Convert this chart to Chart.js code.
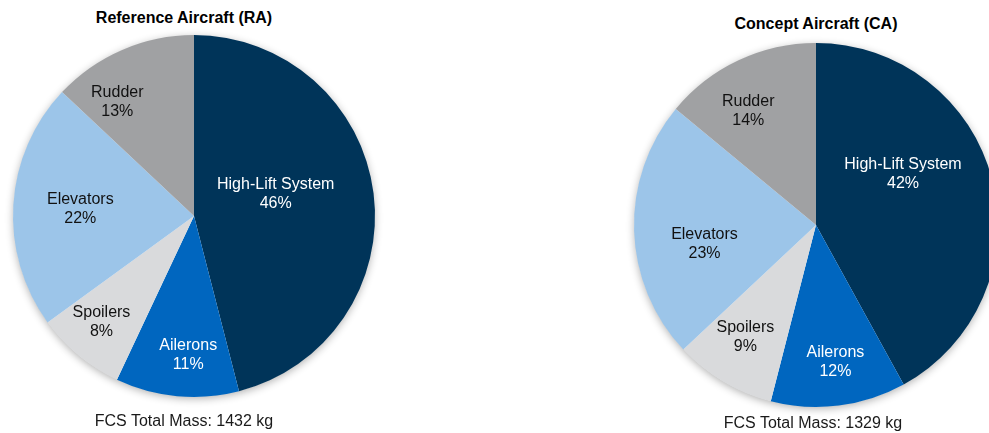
<!DOCTYPE html>
<html>
<head>
<meta charset="utf-8">
<script src="https://cdn.jsdelivr.net/npm/chart.js@4.4.1/dist/chart.umd.min.js"></script>
<style>
  html, body { margin: 0; padding: 0; background: #fff; overflow: hidden; }
  body { width: 989px; height: 433px; position: relative; font-family: "Liberation Sans", Arial, sans-serif; }
  .title { position: absolute; font-weight: bold; font-size: 16px; color: #000; transform: translate(-50%, -50%); white-space: nowrap; }
  .foot { position: absolute; font-size: 16px; color: #1a1a1a; transform: translate(-50%, -50%); white-space: nowrap; }
  canvas { position: absolute; top: 0; }
</style>
</head>
<body>
<div class="title" style="left:184px; top:18px;">Reference Aircraft (RA)</div>
<div class="title" style="left:816px; top:24px;">Concept Aircraft (CA)</div>
<canvas id="raChart" width="400" height="433" style="left:0px;"></canvas>
<canvas id="caChart" width="420" height="433" style="left:600px;"></canvas>
<div class="foot" style="left:184px; top:421px;">FCS Total Mass: 1432 kg</div>
<div class="foot" style="left:813px; top:423px;">FCS Total Mass: 1329 kg</div>

<script>
const components = ["High-Lift System", "Ailerons", "Spoilers", "Elevators", "Rudder"];
const raShares = [46, 11, 8, 22, 13];
const caShares = [42, 12, 9, 23, 14];

const sliceColors = ["#003459", "#0066BF", "#D9DADC", "#9CC5E9", "#A0A1A3"];
const textColors = ["#ffffff", "#ffffff", "#111111", "#111111", "#111111"];

// soft glow under the whole pie, drawn once so slice edges stay clean
const pieShadow = {
    id: "pieShadow",
    beforeDatasetsDraw(chart) {
        const arc = chart.getDatasetMeta(0).data[0];
        if (!arc) return;
        const ctx = chart.ctx;
        ctx.save();
        ctx.shadowColor = "rgba(0,0,0,0.32)";
        ctx.shadowBlur = 9;
        ctx.shadowOffsetY = 2;
        ctx.fillStyle = "#ffffff";
        ctx.beginPath();
        ctx.arc(arc.x, arc.y, arc.outerRadius - 0.5, 0, Math.PI * 2);
        ctx.fill();
        ctx.restore();
    }
};

// two-line "name / percent" labels inside each slice
const sliceLabels = {
    id: "sliceLabels",
    afterDatasetsDraw(chart, args, opts) {
        const ctx = chart.ctx;
        const meta = chart.getDatasetMeta(0);
        const values = chart.data.datasets[0].data;
        ctx.save();
        ctx.font = "16px 'Liberation Sans', Arial, sans-serif";
        ctx.textAlign = "center";
        ctx.textBaseline = "middle";
        meta.data.forEach((arc, i) => {
            const mid = (arc.startAngle + arc.endAngle) / 2 + (opts.shift[i] || 0) * Math.PI / 180;
            const r = arc.outerRadius * opts.depth[i];
            const x = arc.x + Math.cos(mid) * r;
            const y = arc.y + Math.sin(mid) * r + 2;
            ctx.fillStyle = textColors[i];
            ctx.fillText(chart.data.labels[i], x, y - 9.5);
            ctx.fillText(values[i] + "%", x, y + 9.5);
        });
        ctx.restore();
    }
};

function makePie(id, values, padding, depth, shift) {
    return new Chart(document.getElementById(id), {
        type: "pie",
        data: {
            labels: components,
            datasets: [{
                data: values,
                backgroundColor: sliceColors,
                borderWidth: 0,
                hoverOffset: 0
            }]
        },
        options: {
            responsive: false,
            animation: false,
            layout: { padding: padding },
            plugins: {
                legend: { display: false },
                tooltip: { enabled: false },
                sliceLabels: { depth: depth, shift: shift }
            },
            events: []
        },
        plugins: [pieShadow, sliceLabels]
    });
}

makePie("raChart", raShares,
    { left: 13, right: 25, top: 35, bottom: 36 },
    [0.47, 0.76, 0.77, 0.63, 0.77],
    [-9, -3, 2, 1, -10]);

makePie("caChart", caShares,
    { left: 34, right: 22, top: 43, bottom: 26 },
    [0.56, 0.75, 0.72, 0.62, 0.74],
    [-17, -1, 2, -7, -5]);
</script>
</body>
</html>
